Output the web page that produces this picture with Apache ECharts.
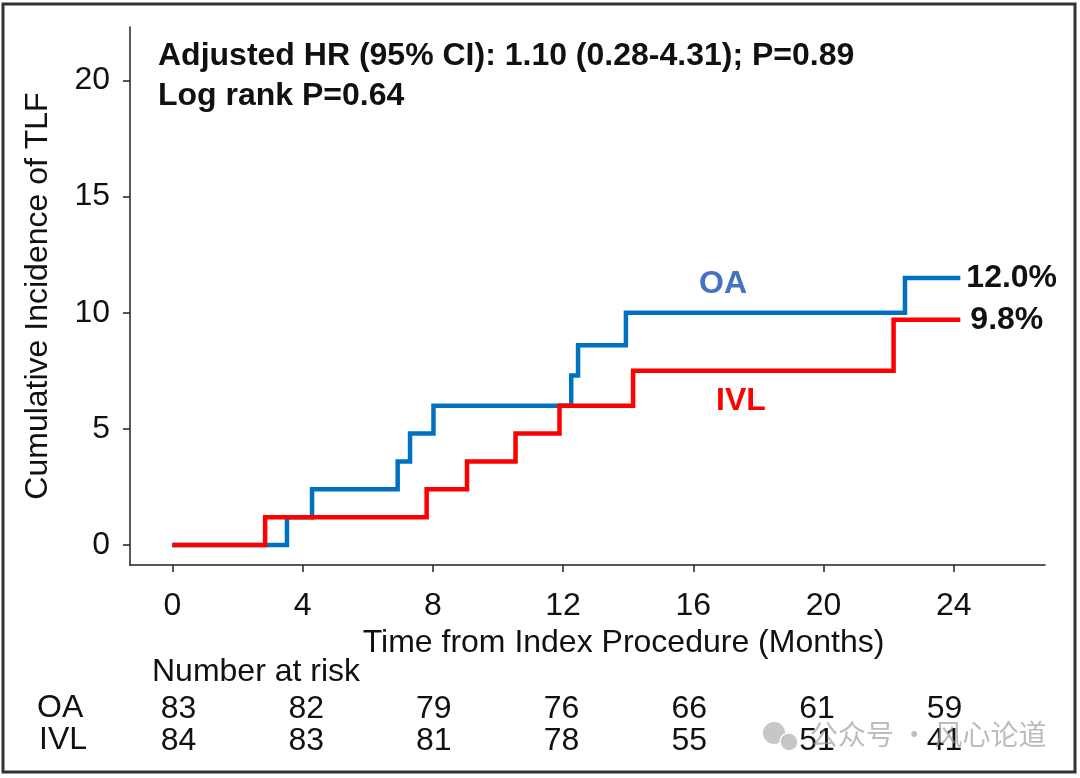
<!DOCTYPE html>
<html>
<head>
<meta charset="utf-8">
<script src="https://cdn.jsdelivr.net/npm/echarts@6/dist/echarts.min.js"></script>
<style>
html,body{margin:0;padding:0;background:#fff;}
#main{width:1080px;height:778px;}
</style>
</head>
<body>
<div id="main"></div>
<script>
// ---- Data ----
const blueTimes  = [0, 3.52, 4.29, 6.92, 7.30, 8.02, 12.25, 12.46, 13.93, 22.5, 24.2];
const blueValues = [0, 1.2, 2.4, 3.6, 4.8, 6.0, 7.3, 8.6, 10.0, 11.5, 11.5];
const redTimes   = [0, 2.85, 7.81, 9.05, 10.54, 11.89, 14.15, 22.15, 24.2];
const redValues  = [0, 1.2, 2.4, 3.6, 4.8, 6.0, 7.5, 9.7, 9.7];
const xTicks = [0, 4, 8, 12, 16, 20, 24];
const yTicks = [0, 5, 10, 15, 20];
const riskTimes = [0, 4, 8, 12, 16, 20, 24];
const riskOA  = [83, 82, 79, 76, 66, 61, 59];
const riskIVL = [84, 83, 81, 78, 55, 51, 41];
const riskRows = ['OA', 'IVL'];
const seriesNames = ['OA', 'IVL'];
const endLabels = ['12.0%', '9.8%'];
const annotation1 = 'Adjusted HR (95% CI): 1.10 (0.28-4.31); P=0.89';
const annotation2 = 'Log rank P=0.64';

const FONT = '"Liberation Sans", Arial, sans-serif';
const BLUE = '#0070C0';
const RED = '#FF0000';
const FS = 32;

const zip = (a, b) => a.map((v, i) => [v, b[i]]);

const chart = echarts.init(document.getElementById('main'), null, {renderer: 'canvas'});

const option = {
  animation: false,
  backgroundColor: '#fff',
  grid: [
    {left: 130, right: 35, top: 27, bottom: 213, containLabel: false},
    {left: 137, right: 46, top: 693, height: 64, containLabel: false}
  ],
  xAxis: [
    {
      gridIndex: 0, type: 'value', min: -1.3, max: 26.8, interval: 4,
      axisLine: {show: true, onZero: false, lineStyle: {color: '#222', width: 1.5}},
      axisTick: {show: true, length: 7, lineStyle: {color: '#222', width: 1.5},
        customValues: xTicks},
      axisLabel: {show: true, color: '#111', fontSize: FS, fontFamily: FONT, margin: 25,
        customValues: xTicks},
      splitLine: {show: false},
      name: 'Time from Index Procedure (Months)', nameLocation: 'middle', nameGap: 56,
      nameTextStyle: {color: '#111', fontSize: FS, fontFamily: FONT, padding: [0, 0, 0, 72]}
    },
    {
      gridIndex: 1, type: 'value', min: -1.3, max: 26.8,
      show: false
    }
  ],
  yAxis: [
    {
      gridIndex: 0, type: 'value', min: -0.86, max: 22.3,
      axisLine: {show: true, onZero: false, lineStyle: {color: '#222', width: 1.5}},
      axisTick: {show: true, length: 7, lineStyle: {color: '#222', width: 1.5},
        customValues: yTicks},
      axisLabel: {show: true, color: '#111', fontSize: FS, fontFamily: FONT, margin: 20,
        customValues: yTicks},
      splitLine: {show: false},
      name: 'Cumulative Incidence of TLF', nameLocation: 'middle', nameGap: 76, nameRotate: 90,
      nameTextStyle: {color: '#111', fontSize: FS, fontFamily: FONT}
    },
    {
      gridIndex: 1, type: 'category', data: riskRows, show: false, boundaryGap: true, inverse: true
    }
  ],
  series: [
    {
      name: seriesNames[0], type: 'line', step: 'end', xAxisIndex: 0, yAxisIndex: 0,
      data: zip(blueTimes, blueValues), showSymbol: false, symbol: 'none',
      lineStyle: {color: BLUE, width: 4.5, cap: 'butt', join: 'miter'},
      z: 2,
      endLabel: {show: true, formatter: endLabels[0], color: '#111', fontWeight: 'bold',
        fontSize: 32, fontFamily: FONT, distance: 6}
    },
    {
      name: seriesNames[1], type: 'line', step: 'end', xAxisIndex: 0, yAxisIndex: 0,
      data: zip(redTimes, redValues), showSymbol: false, symbol: 'none',
      lineStyle: {color: RED, width: 4.5, cap: 'butt', join: 'miter'},
      z: 3,
      endLabel: {show: true, formatter: endLabels[1], color: '#111', fontWeight: 'bold',
        fontSize: 32, fontFamily: FONT, distance: 10}
    },
    {
      type: 'scatter', xAxisIndex: 1, yAxisIndex: 1, symbolSize: 0, silent: true,
      itemStyle: {opacity: 1},
      data: riskTimes.map((t, i) => [t, 'OA', riskOA[i]]),
      label: {show: true, position: 'inside', formatter: p => String(p.value[2]),
        color: '#111', opacity: 1, fontSize: FS, fontFamily: FONT}
    },
    {
      type: 'scatter', xAxisIndex: 1, yAxisIndex: 1, symbolSize: 0, silent: true,
      itemStyle: {opacity: 1},
      data: riskTimes.map((t, i) => [t, 'IVL', riskIVL[i]]),
      label: {show: true, position: 'inside', formatter: p => String(p.value[2]),
        color: '#111', opacity: 1, fontSize: FS, fontFamily: FONT}
    }
  ],
  graphic: [
    {type: 'rect', shape: {x: 3, y: 4, width: 1072, height: 768},
      style: {fill: 'none', stroke: '#333', lineWidth: 3}, z: 100},
    {type: 'text', left: 158, top: 40,
      style: {text: annotation1, fill: '#111', font: 'bold 32px ' + FONT}},
    {type: 'text', left: 158, top: 80,
      style: {text: annotation2, fill: '#111', font: 'bold 32px ' + FONT}},
    {type: 'text', left: 699, top: 268,
      style: {text: seriesNames[0], fill: '#4472C4', font: 'bold 32px ' + FONT}},
    {type: 'text', left: 716, top: 385,
      style: {text: seriesNames[1], fill: '#FF0000', font: 'bold 32px ' + FONT}},
    {type: 'text', left: 152, top: 656,
      style: {text: 'Number at risk', fill: '#111', font: FS + 'px ' + FONT}},
    {type: 'text', left: 37, top: 692,
      style: {text: 'OA', fill: '#111', font: FS + 'px ' + FONT}},
    {type: 'text', left: 39, top: 724,
      style: {text: 'IVL', fill: '#111', font: FS + 'px ' + FONT}},
    {type: 'text', left: 810, top: 720, z: 50,
      style: {text: '公众号 · 风心论道', fill: 'rgba(160,160,160,0.7)', font: '28px "Noto Sans CJK SC", sans-serif'}},
    {type: 'circle', shape: {cx: 774, cy: 733, r: 11}, z: 50,
      style: {fill: 'rgba(175,175,175,0.7)'}},
    {type: 'circle', shape: {cx: 789, cy: 742, r: 9}, z: 50,
      style: {fill: 'rgba(175,175,175,0.7)', stroke: '#fff', lineWidth: 1.5}}
  ]
};
chart.setOption(option);
</script>
</body>
</html>
